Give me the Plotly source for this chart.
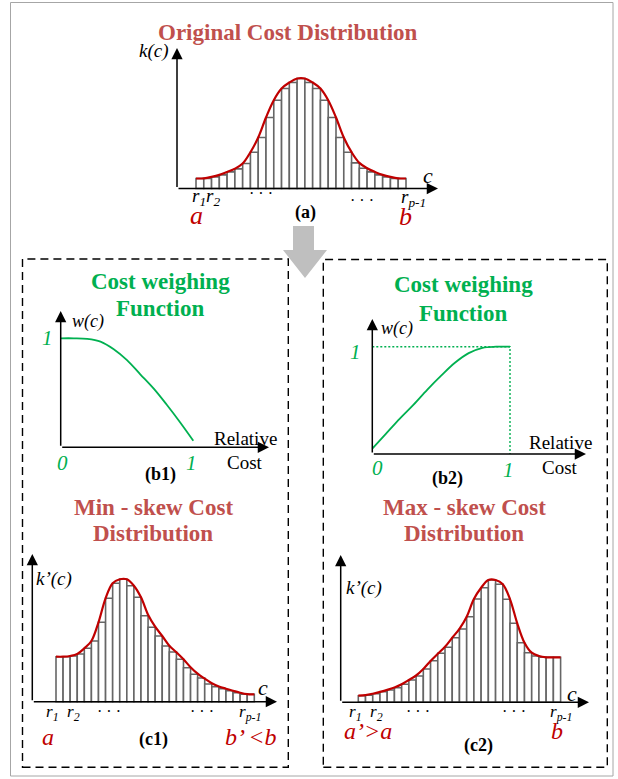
import numpy as np
import plotly.graph_objects as go

W, H = 618, 779

# ---------------- data ----------------
# (a) original cost distribution: 27 bins, bar heights and curve at bin edges
a_bars = [10, 10, 11.6, 13.6, 16.6, 19.6, 25, 36.3, 51, 71, 88.3, 100, 106, 110,
          106, 100, 88.3, 71, 51, 36.3, 25.6, 20.3, 16.6, 13.6, 11.6, 10, 10]
a_curve = [10, 10.2, 11.6, 13.6, 16.6, 19.8, 25, 36.3, 51, 71, 88.3, 100, 106, 110,
           110, 106, 100, 88.3, 71, 51, 36.3, 25.6, 20.3, 16.6, 13.6, 11.6, 10.2, 10]

# (b1) / (b2) cost weighing functions
rel_cost = [0, 0.1, 0.2, 0.3, 0.4, 0.5, 0.6, 0.7, 0.8, 0.9, 1.0]
w_min = [1, 1, 0.995, 0.97, 0.9, 0.8, 0.67, 0.54, 0.39, 0.23, 0.06]
w_max = [0.05, 0.19, 0.33, 0.46, 0.6, 0.73, 0.85, 0.94, 0.99, 1.0, 1.0]

# (c1) min-skew distribution: 28 bins
c1_bars = [45, 45, 45.7, 47.7, 53.4, 60.7, 79.4, 103.4, 118.4, 122.4, 116, 104.4, 86, 74.4,
           65.7, 55.7, 49.7, 42.4, 34, 27.4, 23.7, 17.7, 15, 13, 11, 9, 7.4, 7.4]
c1_curve = [45, 45, 45.7, 47.7, 53.4, 60.7, 79.4, 103.4, 118.4, 122.4,
            122.4, 116, 104.4, 87, 75, 65.7, 56, 49.5, 42.4, 34.5, 28, 23, 18.5, 15.2,
            13, 11, 9, 7.6, 7.4]

# (c2) max-skew distribution: 28 bins
c2_bars = [6.6, 7, 8.6, 10.6, 12.3, 14.6, 18, 22.3, 26.3, 33.3, 41.6, 49, 55, 64.6,
           73.3, 85.6, 103.3, 114.6, 122.3, 118, 103, 79, 59.6, 49.6, 46.3, 45, 45, 45]
c2_curve = [6.6, 7.2, 8.6, 10.4, 12.4, 14.8, 18, 22.3, 26.8, 33.3, 41.3, 48.5, 55.5, 64.6,
            73.5, 85.6, 103.3, 114.6, 122.3,
            122.3, 118, 103, 79, 59.6, 49.6, 46.3, 45, 45, 45]

# ---------------- styles ----------------
FONT = "Liberation Serif"
RED_T = "#c0504d"
RED = "#c00000"
GREEN = "#00b050"
BAR_LINE = "#666666"

def X(px):
    return px / W

def Y(py):
    return 1 - py / H

fig = go.Figure()
layout_axes = {}

# panels: linear map data -> pixel : px = ax + bx*x ; py = ay - by*y
panels = {
    "a":  dict(s="",  ax=196 + 0.5 * 210 / 27, bx=210 / 27, ay=188.5, by=1.0),
    "b1": dict(s="2", ax=60.7, bx=132.6, ay=447.3, by=109.0),
    "b2": dict(s="3", ax=372.3, bx=137.7, ay=454.0, by=107.3),
    "c1": dict(s="4", ax=56 + 0.5 * 198.3 / 28, bx=198.3 / 28, ay=701.7, by=1.0),
    "c2": dict(s="5", ax=358.3 + 0.5 * 202.3 / 28, bx=202.3 / 28, ay=702.3, by=1.0),
}
for k, p in panels.items():
    s = p["s"]
    layout_axes["xaxis" + s] = dict(domain=[0, 1], range=[(0 - p["ax"]) / p["bx"], (W - p["ax"]) / p["bx"]],
                                    visible=False, fixedrange=True, anchor="y" + s)
    layout_axes["yaxis" + s] = dict(domain=[0, 1], range=[(p["ay"] - H) / p["by"], p["ay"] / p["by"]],
                                    visible=False, fixedrange=True, anchor="x" + s)


def add_hist(key, bars, curve):
    s = panels[key]["s"]
    n = len(bars)
    fig.add_trace(go.Bar(x=list(range(n)), y=bars, width=1,
                         marker=dict(color="white", line=dict(color=BAR_LINE, width=1.6)),
                         xaxis="x" + s, yaxis="y" + s, showlegend=False, hoverinfo="skip"))
    edges = np.arange(len(curve)) - 0.5
    fig.add_trace(go.Scatter(x=edges, y=curve, mode="lines", line=dict(color=RED, width=2.2, shape="spline"),
                             xaxis="x" + s, yaxis="y" + s, showlegend=False, hoverinfo="skip"))


add_hist("a", a_bars, a_curve)
add_hist("c1", c1_bars, c1_curve)
add_hist("c2", c2_bars, c2_curve)

fig.add_trace(go.Scatter(x=rel_cost, y=w_min, mode="lines", line=dict(color=GREEN, width=1.8, shape="spline"),
                         xaxis="x2", yaxis="y2", showlegend=False, hoverinfo="skip"))
# dotted guide lines for b2 (w = 1 and relative cost = 1)
fig.add_trace(go.Scatter(x=[rel_cost[0], rel_cost[-1], rel_cost[-1]], y=[1, 1, 0], mode="lines",
                         line=dict(color=GREEN, width=1.4, dash="2px,2px"),
                         xaxis="x3", yaxis="y3", showlegend=False, hoverinfo="skip"))
fig.add_trace(go.Scatter(x=rel_cost, y=w_max, mode="lines", line=dict(color=GREEN, width=1.8, shape="spline"),
                         xaxis="x3", yaxis="y3", showlegend=False, hoverinfo="skip"))

annotations = []

def axis_arrows(ox, oy, ytop, xright):
    annotations.append(dict(x=X(ox), y=Y(ytop), xref="paper", yref="paper", ax=0, ay=oy - ytop,
                            showarrow=True, arrowhead=2, arrowsize=1.5, arrowwidth=1.5,
                            arrowcolor="black", text="", standoff=0))
    annotations.append(dict(x=X(xright), y=Y(oy), xref="paper", yref="paper", ax=-(xright - ox), ay=0,
                            showarrow=True, arrowhead=2, arrowsize=1.5, arrowwidth=1.5,
                            arrowcolor="black", text="", standoff=0))

axis_arrows(177, 188.5, 48, 438)
axis_arrows(60.7, 447.3, 311, 269)
axis_arrows(372.3, 454, 319, 586)
axis_arrows(32.3, 701.7, 554, 277)
axis_arrows(340.7, 702.3, 555, 589)


def txt(s, x, y, size, color="black", bold=False, italic=False, xanchor="center"):
    if bold:
        s = "<b>" + s + "</b>"
    if italic:
        s = "<i>" + s + "</i>"
    annotations.append(dict(text=s, x=X(x), y=Y(y), xref="paper", yref="paper", showarrow=False,
                            xanchor=xanchor, yanchor="middle",
                            font=dict(family=FONT, size=size, color=color)))

# ---- (a) ----
txt("Original Cost Distribution", 288, 32, 23, RED_T, bold=True)
txt("k(c)", 154, 51, 19, italic=True)
txt("c", 428, 175, 22, italic=True)
txt("r<sub>1</sub>r<sub>2</sub>", 206, 197, 19, italic=True)
txt("· · ·", 261, 194, 16)
txt("· · ·", 362, 200, 16)
txt("r<sub>p-1</sub>", 413, 198, 19, italic=True)
txt("a", 196, 215, 26, RED, italic=True)
txt("b", 405, 216, 26, RED, italic=True)
txt("(a)", 305, 212, 18, bold=True)

# ---- (b1) ----
txt("Cost weighing", 160, 281, 23, GREEN, bold=True)
txt("Function", 160, 308, 23, GREEN, bold=True)
txt("w(c)", 88, 322, 18, italic=True)
txt("1", 47, 338, 21, GREEN, italic=True)
txt("0", 62, 463, 21, GREEN, italic=True)
txt("1", 192, 463, 21, GREEN, italic=True)
txt("Relative", 245, 438, 19)
txt("Cost", 245, 462, 19)
txt("(b1)", 160, 474, 18, bold=True)

# ---- (b2) ----
txt("Cost weighing", 463, 284, 23, GREEN, bold=True)
txt("Function", 463, 313, 23, GREEN, bold=True)
txt("w(c)", 397, 328, 18, italic=True)
txt("1", 355, 352, 21, GREEN, italic=True)
txt("0", 377, 468, 21, GREEN, italic=True)
txt("1", 508, 470, 21, GREEN, italic=True)
txt("Relative", 560, 443, 19)
txt("Cost", 560, 467, 19)
txt("(b2)", 447, 478, 18, bold=True)

# ---- (c1) ----
txt("Min - skew Cost", 153, 507, 23, RED_T, bold=True)
txt("Distribution", 153, 533, 23, RED_T, bold=True)
txt("k’(c)", 54, 579, 19, italic=True)
txt("c", 263, 687, 22, italic=True)
txt("r<sub>1</sub>  r<sub>2</sub>", 63, 713, 17, italic=True)
txt("· · ·", 109, 711, 16)
txt("· · ·", 202, 711, 16)
txt("r<sub>p-1</sub>", 250, 713, 17, italic=True)
txt("a", 48, 737, 24, RED, italic=True)
txt("b’ <b", 251, 737, 24, RED, italic=True)
txt("(c1)", 153, 739, 18, bold=True)

# ---- (c2) ----
txt("Max - skew Cost", 464, 507, 23, RED_T, bold=True)
txt("Distribution", 464, 533, 23, RED_T, bold=True)
txt("k’(c)", 364, 588, 19, italic=True)
txt("c", 572, 693, 22, italic=True)
txt("r<sub>1</sub>  r<sub>2</sub>", 366, 713, 17, italic=True)
txt("· · ·", 418, 711, 16)
txt("· · ·", 514, 711, 16)
txt("r<sub>p-1</sub>", 561, 713, 17, italic=True)
txt("a’&gt;a", 368, 731, 24, RED, italic=True)
txt("b", 557, 731, 24, RED, italic=True)
txt("(c2)", 478, 745, 18, bold=True)

# ---------------- shapes ----------------
def P(px, py):
    return f"{X(px):.5f},{Y(py):.5f}"

arrow_path = ("M " + P(293, 226) + " L " + P(314, 226) + " L " + P(314, 250) + " L " + P(327, 250) +
              " L " + P(305, 278) + " L " + P(283, 250) + " L " + P(293, 250) + " Z")
shapes = [
    dict(type="rect", xref="paper", yref="paper", x0=X(10.5), x1=X(613), y0=Y(776), y1=Y(2.5),
         line=dict(color="#a6a6a6", width=1)),
    dict(type="path", xref="paper", yref="paper", path=arrow_path, fillcolor="#bfbfbf",
         line=dict(width=0)),
    dict(type="rect", xref="paper", yref="paper", x0=X(22.5), x1=X(288.3), y0=Y(767.3), y1=Y(259),
         line=dict(color="black", width=1.4, dash="8px,5px")),
    dict(type="rect", xref="paper", yref="paper", x0=X(323.3), x1=X(607.3), y0=Y(767.3), y1=Y(259.5),
         line=dict(color="black", width=1.4, dash="8px,5px")),
]

fig.update_layout(
    width=W, height=H, margin=dict(l=0, r=0, t=0, b=0),
    paper_bgcolor="white", plot_bgcolor="rgba(0,0,0,0)",
    showlegend=False, annotations=annotations, shapes=shapes,
    **layout_axes,
)

fig.write_html("out.html", post_script="document.body.style.margin='0px';",
               config={"displayModeBar": False})
